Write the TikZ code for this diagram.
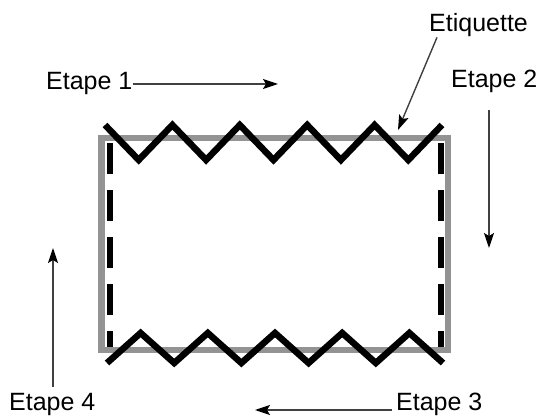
\documentclass[tikz,border=0pt]{standalone}
\usepackage{fontspec}
\setmainfont{Liberation Sans}
\usetikzlibrary{arrows.meta,calc,positioning}

\begin{document}
\begin{tikzpicture}[x=1pt,y=-1pt,
    lbl/.style={inner sep=0pt,anchor=base west,font=\fontsize{25}{29}\selectfont},
    arr/.style={black!75,line width=1.4pt,-{Stealth[length=15pt,width=10pt,inset=3pt,black]}},
    bord/.style={gray!85,line width=6.5pt},
    seam/.style={black,line width=6pt,dash pattern=on 31pt off 16pt},
    zz/.style={black,line width=6.5pt}]
\useasboundingbox (0,0) rectangle (542,420);
% box and side seams
\draw[bord] (101.5,138) rectangle (448,350);
\draw[seam] (110,143) -- (110,347);
\draw[seam] (441,143) -- (441,347);
% zigzags
\draw[zz] (105,125) \foreach \i in {1,...,10} {-- ({105+33.7*\i},{125+35*mod(\i,2)})};
\draw[zz] (107,363) \foreach \i in {1,...,10} {-- ({107+33.6*\i},{363-30*mod(\i,2)})};

% labels
\node[lbl] (e1) at (46,90) {Etape 1};
\node[lbl] (et) at (429,32) {Etiquette};
\node[lbl] (e2) at (451,88) {Etape 2};
\node[lbl] (e3) at (396,410) {Etape 3};
\node[lbl] (e4) at (9,410) {Etape 4};

\coordinate (t1) at (278,84);
\coordinate (t2) at (489,248);
\coordinate (t3) at (255,410);
\coordinate (t4) at (53,248);
\coordinate (t5) at (398,130);

\draw[arr] (e1.east) -- (e1.east -| t1);
\draw[arr] ([xshift=8pt]et.south west) -- (t5);
\draw[arr] ($(t2 |- e2.south)+(0,17)$) -- (t2);
\draw[arr] ($(e3.base west)+(-4,0)$) -- (t3);
\draw[arr] ($(t4 |- e4.north)+(0,-6)$) -- (t4);
\end{tikzpicture}
\end{document}
